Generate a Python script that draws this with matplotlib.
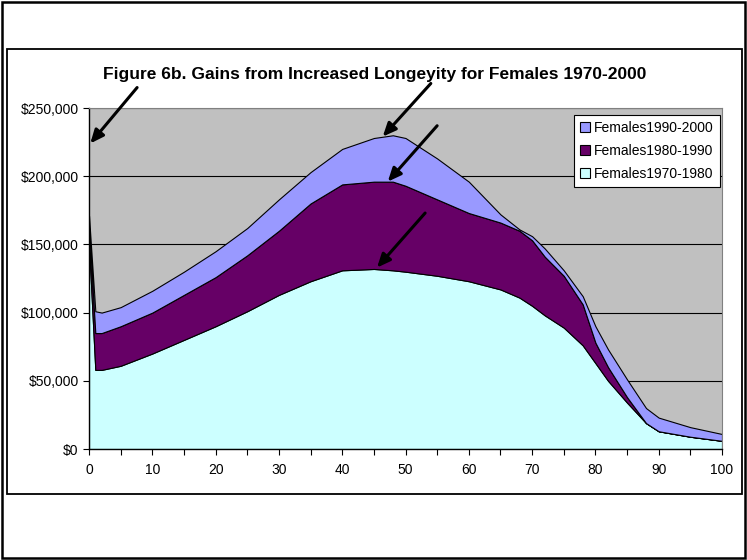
import matplotlib
matplotlib.use("Agg")
import matplotlib.pyplot as plt
from matplotlib.patches import Rectangle
from matplotlib.ticker import FuncFormatter, MultipleLocator

plt.rcParams['font.family'] = ['Liberation Sans', 'DejaVu Sans']

# gains per age, in thousands of dollars
ages = [0, 1, 2, 5, 10, 15, 20, 25, 30, 35, 40, 45, 48, 50, 55, 60, 65, 68, 70,
        72, 75, 78, 80, 82, 85, 88, 90, 95, 100]
f1970 = [150, 58, 58, 61, 70, 80, 90, 101, 113, 123, 131, 132, 131, 130, 127, 123,
         117, 111, 105, 98, 89, 76, 63, 50, 34, 19, 13, 9, 6]
f1980 = [12, 27, 27, 29, 30, 33, 36, 41, 47, 57, 63, 64, 65, 63, 56, 50,
         49, 49, 48, 43, 38, 30, 15, 10, 4, 0, 0, 0, 0]
f1990 = [9, 16, 15, 14, 16, 17, 19, 20, 23, 23, 26, 32, 34, 35, 30, 23,
         6, 1, 3, 6, 4, 6, 12, 13, 13, 11, 10, 7, 5]

labels = ["Females1970-1980", "Females1980-1990", "Females1990-2000"]
colors = ["#CCFFFF", "#660066", "#9999FF"]

fig = plt.figure(figsize=(7.47, 5.6), dpi=100)
ax = fig.add_axes([89 / 747, 1 - 449 / 560, 633 / 747, 341 / 560])
ax.set_facecolor("#C0C0C0")

ax.stackplot(ages, f1970, f1980, f1990, colors=colors, labels=labels,
             edgecolor="black", linewidth=0.8, zorder=2)

ax.set_xlim(0, 100)
ax.set_ylim(0, 250)
ax.xaxis.set_major_locator(MultipleLocator(10))
ax.xaxis.set_minor_locator(MultipleLocator(5))
ax.yaxis.set_major_locator(MultipleLocator(50))
ax.yaxis.set_major_formatter(FuncFormatter(lambda v, p: f"${v * 1000:,.0f}"))
ax.grid(axis="y", color="black", linewidth=0.8, zorder=1)
ax.set_axisbelow(True)
ax.tick_params(axis="both", which="both", direction="out", length=4, width=0.8,
               labelsize=10, colors="black")
ax.tick_params(axis="x", pad=6)
for s in ["top", "right"]:
    ax.spines[s].set_color("#808080")
    ax.spines[s].set_linewidth(0.8)
for s in ["left", "bottom"]:
    ax.spines[s].set_linewidth(1.0)

handles, lbls = ax.get_legend_handles_labels()
leg = ax.legend(handles[::-1], lbls[::-1], loc="upper left",
                bbox_to_anchor=(0.766, 0.98), fontsize=10, frameon=True,
                fancybox=False, edgecolor="black", framealpha=1,
                handlelength=0.7, handleheight=0.7, handletextpad=0.3,
                borderpad=0.45, labelspacing=0.65, borderaxespad=0)
leg.get_frame().set_linewidth(0.8)
for h in leg.legend_handles:
    h.set_edgecolor("black")
    h.set_linewidth(0.8)

fig.text(375 / 747, 1 - 75 / 560,
         "Figure 6b. Gains from Increased Longeyity for Females 1970-2000",
         ha="center", va="center", fontsize=12.5, fontweight="bold")

# arrows pointing at the peaks
arrows = [((7.6, 265), (0.2, 224)), ((54.0, 268), (46.4, 229)),
          ((55.0, 237), (47.2, 196)), ((53.1, 173), (45.5, 133))]
for tail, head in arrows:
    ax.annotate("", xy=head, xytext=tail, annotation_clip=False, zorder=5,
                arrowprops=dict(arrowstyle="-|>,head_length=0.8,head_width=0.35",
                                color="black", lw=2.2, shrinkA=0, shrinkB=0))

# outer and inner frames
fig.patches.append(Rectangle((2 / 747, 2 / 560), 743 / 747, 556 / 560,
                             transform=fig.transFigure, fill=False,
                             edgecolor="black", linewidth=1.8))
fig.patches.append(Rectangle((7 / 747, 1 - 494 / 560), 735 / 747, 445 / 560,
                             transform=fig.transFigure, fill=False,
                             edgecolor="black", linewidth=1.3))

fig.savefig("out.png", dpi=100)
